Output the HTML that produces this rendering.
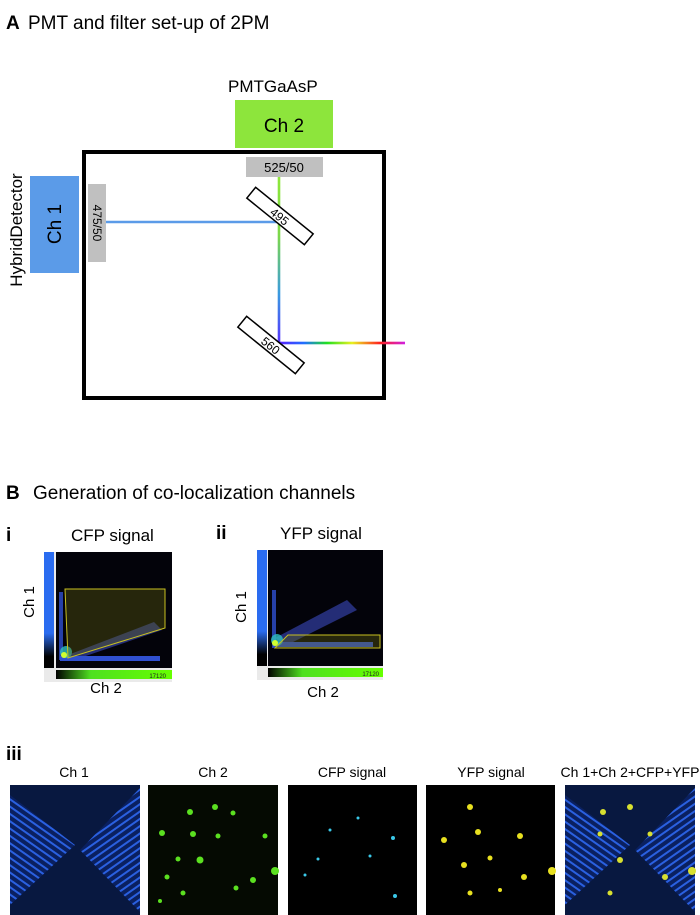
<!DOCTYPE html>
<html><head><meta charset="utf-8"><style>
body{margin:0;width:700px;height:915px;background:#fff;position:relative;overflow:hidden;font-family:"Liberation Sans",sans-serif;}
</style></head><body>
<svg width="700" height="915" style="position:absolute;left:0;top:0" font-family="Liberation Sans, sans-serif">
<defs>
<linearGradient id="vg" x1="0" y1="0" x2="0" y2="1"><stop offset="0" stop-color="#8ee83a"/><stop offset="0.35" stop-color="#7dd84a"/><stop offset="0.7" stop-color="#3a9ae0"/><stop offset="1" stop-color="#5530ff"/></linearGradient>
<linearGradient id="rg" x1="0" y1="0" x2="1" y2="0"><stop offset="0" stop-color="#5a20ff"/><stop offset="0.2" stop-color="#2070ff"/><stop offset="0.38" stop-color="#20e020"/><stop offset="0.58" stop-color="#e8f020"/><stop offset="0.8" stop-color="#ff2020"/><stop offset="1" stop-color="#d020e0"/></linearGradient>
<linearGradient id="gb" x1="0" y1="0" x2="1" y2="0"><stop offset="0" stop-color="#000"/><stop offset="0.3" stop-color="#4fe020"/><stop offset="1" stop-color="#66ff00"/></linearGradient>
<linearGradient id="bb" x1="0" y1="0" x2="0" y2="1"><stop offset="0" stop-color="#2a6cf0"/><stop offset="0.7" stop-color="#2a6cf0"/><stop offset="0.9" stop-color="#000"/><stop offset="1" stop-color="#000"/></linearGradient>
<pattern id="st1" width="6" height="6" patternUnits="userSpaceOnUse" patternTransform="rotate(35)"><rect width="6" height="6" fill="#0a2060"/><rect width="6" height="2" fill="#2a60e0"/></pattern>
<pattern id="st2" width="6" height="6" patternUnits="userSpaceOnUse" patternTransform="rotate(-35)"><rect width="6" height="6" fill="#0a2060"/><rect width="6" height="2" fill="#2a60e0"/></pattern>
</defs>
<text x="6" y="29" font-size="19" font-weight="bold">A</text>
<text x="28" y="29" font-size="19">PMT and filter set-up of 2PM</text>
<text x="228" y="92" font-size="17">PMTGaAsP</text>
<rect x="235" y="100" width="98" height="48" fill="#8de53c"/>
<text x="284" y="132" font-size="19" text-anchor="middle">Ch 2</text>
<rect x="30" y="176" width="49" height="97" fill="#5b9be8"/>
<text transform="translate(61,224) rotate(-90)" font-size="19" text-anchor="middle">Ch 1</text>
<text transform="translate(22,230) rotate(-90)" font-size="17" text-anchor="middle">HybridDetector</text>
<rect x="84" y="152" width="300" height="246" fill="none" stroke="#000" stroke-width="4"/>
<rect x="88" y="184" width="18" height="78" fill="#c0c0c0"/>
<text transform="translate(93,223) rotate(90)" font-size="12" text-anchor="middle">475/50</text>
<rect x="246" y="157" width="77" height="20" fill="#c0c0c0"/>
<text x="284" y="172" font-size="13" text-anchor="middle">525/50</text>
<line x1="106" y1="222" x2="279" y2="222" stroke="#5b9be8" stroke-width="2.5"/>
<rect x="277.7" y="177" width="2.6" height="167" fill="url(#vg)"/>
<rect x="279" y="341.7" width="126" height="2.6" fill="url(#rg)"/>
<g transform="translate(280,216) rotate(39)"><rect x="-37" y="-7" width="74" height="14" fill="#fff" stroke="#000" stroke-width="1.5"/><text x="0" y="5" font-size="12" text-anchor="middle">495</text></g>
<g transform="translate(271,345) rotate(39)"><rect x="-37" y="-7" width="74" height="14" fill="#fff" stroke="#000" stroke-width="1.5"/><text x="0" y="5" font-size="12" text-anchor="middle">560</text></g>

<text x="6" y="499" font-size="19" font-weight="bold">B</text>
<text x="33" y="499" font-size="19">Generation of co-localization channels</text>
<text x="6" y="541" font-size="19" font-weight="bold">i</text>
<text x="71" y="541" font-size="17">CFP signal</text>
<text x="216" y="539" font-size="19" font-weight="bold">ii</text>
<text x="280" y="539" font-size="17">YFP signal</text>
<text transform="translate(34,602) rotate(-90)" font-size="15" text-anchor="middle">Ch 1</text>
<text transform="translate(246,607) rotate(-90)" font-size="15" text-anchor="middle">Ch 1</text>
<text x="106" y="693" font-size="15" text-anchor="middle">Ch 2</text>
<text x="323" y="697" font-size="15" text-anchor="middle">Ch 2</text>

<g transform="translate(44,552)">
<rect x="0" y="0" width="128" height="130" fill="#eaeaea"/>
<rect x="0" y="0" width="10" height="116" fill="url(#bb)"/>
<rect x="12" y="0" width="116" height="116" fill="#03030a"/>
<rect x="12" y="118" width="116" height="9" fill="url(#gb)"/>
<polygon points="16,106 110,70 118,78 30,108" fill="#4050d0" opacity="0.55"/>
<rect x="16" y="104" width="100" height="5" fill="#3050d0"/>
<rect x="15" y="40" width="4" height="68" fill="#3050d0" opacity="0.8"/>
<circle cx="22" cy="100" r="6" fill="#30c0c0" opacity="0.8"/>
<circle cx="20" cy="103" r="3" fill="#d0ff30"/>
<polygon points="21,37 121,37 121,76 24,106" fill="#6a6a10" fill-opacity="0.35" stroke="#c8c020" stroke-width="1"/>
<text x="122" y="126" font-size="6" fill="#222" text-anchor="end">17120</text>
</g>
<g transform="translate(257,550)">
<rect x="0" y="0" width="126" height="130" fill="#eaeaea"/>
<rect x="0" y="0" width="10" height="116" fill="url(#bb)"/>
<rect x="11" y="0" width="115" height="116" fill="#03030a"/>
<rect x="11" y="118" width="115" height="9" fill="url(#gb)"/>
<polygon points="18,88 90,50 100,60 30,95" fill="#4050d0" opacity="0.55"/>
<rect x="16" y="92" width="100" height="5" fill="#3050d0"/>
<rect x="15" y="40" width="4" height="58" fill="#3050d0" opacity="0.8"/>
<circle cx="20" cy="90" r="6" fill="#30c0c0" opacity="0.8"/>
<circle cx="18" cy="93" r="3" fill="#d0ff30"/>
<polygon points="31,85 123,85 123,98 18,98" fill="#6a6a10" fill-opacity="0.35" stroke="#c8c020" stroke-width="1"/>
<text x="122" y="126" font-size="6" fill="#222" text-anchor="end">17120</text>
</g>

<text x="6" y="760" font-size="19" font-weight="bold">iii</text>
<text x="74" y="777" font-size="14" text-anchor="middle">Ch 1</text>
<text x="213" y="777" font-size="14" text-anchor="middle">Ch 2</text>
<text x="352" y="777" font-size="14" text-anchor="middle">CFP signal</text>
<text x="491" y="777" font-size="14" text-anchor="middle">YFP signal</text>
<text x="630" y="777" font-size="14" text-anchor="middle">Ch 1+Ch 2+CFP+YFP</text>
<rect x="10" y="785" width="130" height="130" fill="#081840"/>
<polygon points="10,795 75,845 10,905" fill="url(#st1)"/>
<polygon points="140,788 80,850 140,912" fill="url(#st2)"/>
<rect x="148" y="785" width="130" height="130" fill="#050a02"/>
<rect x="288" y="785" width="129" height="130" fill="#000"/>
<rect x="426" y="785" width="129" height="130" fill="#000"/>
<rect x="565" y="785" width="130" height="130" fill="#081840"/>
<polygon points="565,795 630,845 565,905" fill="url(#st1)"/>
<polygon points="695,788 635,850 695,912" fill="url(#st2)"/>
<g fill="#5be020">
<circle cx="190" cy="812" r="3"/><circle cx="215" cy="807" r="3"/><circle cx="233" cy="813" r="2.5"/><circle cx="162" cy="833" r="3"/><circle cx="193" cy="834" r="3"/><circle cx="218" cy="836" r="2.5"/><circle cx="265" cy="836" r="2.5"/><circle cx="200" cy="860" r="3.5"/><circle cx="178" cy="859" r="2.5"/><circle cx="253" cy="880" r="3"/><circle cx="275" cy="871" r="4"/><circle cx="167" cy="877" r="2.5"/><circle cx="236" cy="888" r="2.5"/><circle cx="183" cy="893" r="2.5"/><circle cx="160" cy="901" r="2"/>
</g>
<g fill="#e8e020">
<circle cx="470" cy="807" r="3"/><circle cx="444" cy="840" r="3"/><circle cx="478" cy="832" r="3"/><circle cx="520" cy="836" r="3"/><circle cx="464" cy="865" r="3"/><circle cx="490" cy="858" r="2.5"/><circle cx="524" cy="877" r="3"/><circle cx="552" cy="871" r="4"/><circle cx="470" cy="893" r="2.5"/><circle cx="500" cy="890" r="2"/>
</g>
<g fill="#3ac8e8">
<circle cx="358" cy="818" r="1.5"/><circle cx="330" cy="830" r="1.5"/><circle cx="393" cy="838" r="2"/><circle cx="370" cy="856" r="1.5"/><circle cx="318" cy="859" r="1.5"/><circle cx="395" cy="896" r="2"/><circle cx="305" cy="875" r="1.5"/>
</g>
<g fill="#d8e030">
<circle cx="603" cy="812" r="3"/><circle cx="630" cy="807" r="3"/><circle cx="620" cy="860" r="3"/><circle cx="665" cy="877" r="3"/><circle cx="692" cy="871" r="4"/><circle cx="600" cy="834" r="2.5"/><circle cx="650" cy="834" r="2.5"/><circle cx="610" cy="893" r="2.5"/>
</g>
</svg>
</body></html>
